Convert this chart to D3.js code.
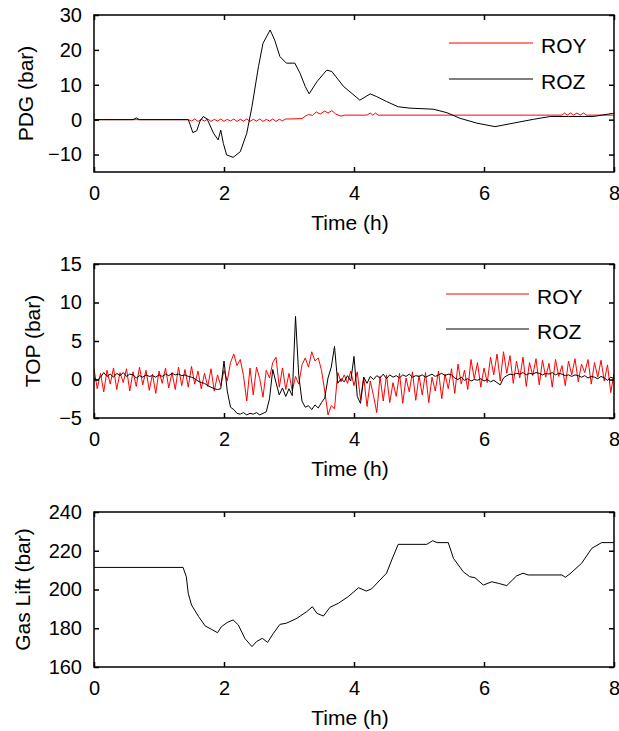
<!DOCTYPE html>
<html>
<head>
<meta charset="utf-8">
<script src="https://cdn.jsdelivr.net/npm/d3@7"></script>
<style>
  body { margin: 0; background: #fff; }
  svg { display: block; font-family: "Liberation Sans", Arial, sans-serif; }
</style>
</head>
<body>
<svg id="chart" width="619" height="731"></svg>
<script>
// ---------- data ----------
const xTicks = [0, 2, 4, 6, 8];

// PDG (bar): downhole pressure deviation, sampled at irregular times (h)
const pdgRozTime = [0, 0.6, 0.65, 0.7, 1.45, 1.48, 1.52, 1.58, 1.63, 1.68, 1.74, 1.84, 1.91, 1.95, 1.99, 2.04, 2.14, 2.25, 2.35, 2.43, 2.53, 2.60, 2.71, 2.78, 2.86, 2.96, 3.09, 3.17, 3.25, 3.31, 3.43, 3.58, 3.66, 3.84, 4.09, 4.25, 4.35, 4.50, 4.68, 4.86, 5.22, 5.43, 5.63, 5.89, 6.17, 6.45, 6.76, 7.02, 7.30, 7.68, 7.98, 8.0];
const pdgRozVal  = [0, 0, 0.5, 0, 0, -1.5, -3.7, -3.2, -0.5, 0.9, 0.2, -3.9, -5.8, -3.0, -6.8, -10.1, -10.8, -9.2, -3.9, 3.7, 15.2, 21.9, 25.7, 22.8, 18.1, 16.2, 16.2, 13.3, 9.5, 7.4, 10.9, 14.2, 13.8, 9.5, 5.6, 7.4, 6.6, 5.2, 3.7, 3.3, 3.0, 2.0, 0.4, -1.0, -2.0, -1.0, 0.1, 0.9, 0.9, 0.9, 1.8, 1.8];
const pdgRoyTime = [0, 1.45, 1.50, 1.55, 1.60, 1.65, 1.70, 1.75, 1.80, 1.85, 1.90, 1.95, 2.00, 2.05, 2.10, 2.15, 2.20, 2.25, 2.30, 2.35, 2.40, 2.45, 2.50, 2.55, 2.60, 2.65, 2.70, 2.75, 2.80, 2.85, 2.90, 2.95, 3.00, 3.20, 3.25, 3.30, 3.36, 3.42, 3.48, 3.55, 3.60, 3.66, 3.72, 3.80, 3.85, 4.20, 4.25, 4.29, 4.33, 4.37, 7.20, 7.24, 7.28, 7.33, 7.38, 7.43, 7.48, 7.53, 7.58, 8.0];
const pdgRoyVal  = [0, 0, -0.4, 0.2, -0.5, 0.1, -0.4, 0.2, -0.5, 0.1, -0.4, 0.2, -0.5, 0.1, -0.4, 0.2, -0.5, 0.1, -0.4, 0.2, -0.5, 0.1, -0.4, 0.2, -0.5, 0.1, -0.4, 0.2, -0.5, 0.1, -0.3, 0.2, 0.2, 0.3, 1.0, 1.5, 1.2, 2.2, 1.6, 2.5, 1.9, 2.6, 1.6, 1.0, 1.3, 1.3, 1.9, 1.3, 1.9, 1.3, 1.3, 1.9, 1.3, 1.9, 1.3, 1.9, 1.3, 1.9, 1.3, 1.3];

// TOP (bar): topside pressure deviation, sampled every 0.05 h from 0 to 8 h
const topStep = 0.05;
const topRoy = [
  1.4, -1.2, 0.8, -1.6, 1.2, -0.6, 1.5, -1.3, 0.9, -0.4,
  1.4, -1.5, 1.0, -0.9, 1.6, -0.7, 1.2, -1.4, 0.7, -1.8,
  1.1, -0.5, 1.5, -1.1, 0.9, -1.3, 1.6, -0.8, 1.3, -1.0,
  1.7, -0.6, 1.1, -1.2, 0.8, -0.9, 1.4, -1.5, 0.6, -0.8,
  1.2, -0.2, 2.2, 3.3, 1.8, 2.6, 0.5, -2.8, 1.5, -2.0,
  1.6, 0.1, -2.3, 1.2, 0.2, 2.2, 2.9, -1.0, 1.5, -1.3,
  0.8, -1.5, 0.4, -0.6, 1.9, 2.8, 1.6, 3.6, 2.4, 2.8,
  1.2, -1.5, -4.6, -3.4, -3.8, 0.9, -0.3, 0.6, -0.5, 1.1,
  -0.8, 1.0, -2.6, 0.3, -3.5, -0.2, -2.1, -4.3, 0.4, -2.8,
  0.6, -3.0, -0.4, -2.2, 0.8, -3.1, 0.2, -1.6, 1.0, -2.7,
  0.5, -2.0, 0.9, -3.0, 0.3, -1.5, 1.1, -2.5, 0.7, -1.2,
  1.4, -1.8, 2.0, -0.6, 1.2, -1.3, 2.6, 0.1, 2.2, -1.0,
  1.5, -0.4, 2.9, 0.6, 3.3, -0.2, 3.6, 0.8, 3.1, -0.5,
  2.4, 0.2, 2.9, -0.9, 2.2, 0.5, 2.7, -0.7, 2.5, 0.3,
  2.1, -1.0, 2.6, 0.4, 1.8, -0.8, 2.4, 0.6, 2.7, -0.3,
  2.0, 0.9, 2.6, -0.6, 2.2, 0.3, 2.5, -0.2, 1.9, -1.7,
  0.8
];
const topRoz = [
  0.2, -0.1, 0.3, 0.9, 0.4, 0.7, 0.3, 0.8, 0.5, 0.9,
  0.4, 0.7, 0.6, 0.2, 0.5, 0.3, 0.6, 0.4, 0.5, 0.3,
  0.6, 0.4, 0.7, 0.5, 0.8, 0.6, 0.7, 0.5, 0.6, 0.4,
  0.3, 0.1, -0.2, -0.4, -0.5, -0.8, -1.0, -1.2, -1.3, -1.2,
  2.4, -1.5, -3.6, -3.9, -4.4, -4.5, -4.3, -4.6, -4.4, -4.5,
  -4.3, -4.6, -4.4, -4.2, -2.5, 1.3, -0.4, -2.0, -1.1, -2.2,
  -1.2, -2.1, 8.2, 0.5, -2.8, -3.6, -3.4, -3.9, -3.3, -3.7,
  -3.0, -2.4, 0.2, 1.6, 4.3, -0.5, 0.1, -0.3, 0.5, -0.2,
  3.0, -2.2, -3.1, 0.3, -0.5, 0.4, 0.0, 0.5, 0.2, 0.7,
  0.1, 0.6, 0.3, 0.5, 0.2, 0.6, 0.4, 0.7, 0.3, 0.5,
  0.4, 0.6, 0.3, 0.5, 0.7, 0.4, 0.6, 0.8, 0.5, 0.7,
  0.6, 0.2, 0.0, 0.3, -0.1, 0.1, -0.2, 0.0, -0.1, 0.1,
  -0.2, 0.0, -0.3, -0.1, -0.4, -0.7, 0.2, 0.5, 0.7, 0.6,
  0.8, 0.7, 0.9, 0.6, 0.8, 0.7, 0.9, 0.8, 0.6, 0.8,
  0.7, 0.9, 0.6, 0.8, 0.7, 0.5, 0.6, 0.4, 0.6, 0.5,
  0.3, 0.5, 0.2, 0.4, 0.3, 0.1, 0.4, 0.2, -0.1, 0.3,
  0.1
];

// Gas lift pressure (bar)
const gasTime = [0, 1.37, 1.42, 1.45, 1.50, 1.61, 1.71, 1.81, 1.90, 1.96, 2.05, 2.14, 2.22, 2.32, 2.43, 2.50, 2.59, 2.67, 2.76, 2.86, 2.96, 3.12, 3.27, 3.36, 3.43, 3.53, 3.63, 3.76, 3.91, 4.07, 4.19, 4.27, 4.40, 4.50, 4.58, 4.68, 5.12, 5.21, 5.28, 5.45, 5.53, 5.68, 5.78, 5.86, 5.99, 6.12, 6.22, 6.35, 6.50, 6.60, 6.68, 7.20, 7.25, 7.32, 7.50, 7.66, 7.81, 8.0];
const gasVal  = [211.4, 211.4, 206.6, 198.0, 192.0, 186.0, 181.2, 179.4, 177.7, 180.8, 183.0, 184.3, 181.7, 174.8, 170.5, 173.1, 174.8, 172.7, 177.4, 182.0, 182.6, 185.1, 188.5, 191.1, 187.7, 186.3, 190.8, 192.9, 196.3, 200.9, 199.2, 200.3, 204.9, 208.4, 215.2, 223.3, 223.3, 225.2, 224.2, 224.2, 216.1, 209.2, 206.6, 206.1, 202.3, 204.0, 203.2, 202.0, 207.0, 208.4, 207.5, 207.5, 206.3, 208.0, 213.5, 221.3, 224.2, 224.2];

// ---------- layout ----------
const svg = d3.select("#chart");
const left = 94, right = 614;
const x = d3.scaleLinear().domain([0, 8]).range([left, right]);
const tickLen = 5;

const panels = [
  { top: 15, bottom: 172, domain: [-15, 30], ticks: [-10, 0, 10, 20, 30], label: "PDG (bar)", labelX: 33,
    series: [
      { t: pdgRoyTime, v: pdgRoyVal, color: "#ff0000" },
      { t: pdgRozTime, v: pdgRozVal, color: "#000000" }
    ],
    legend: { x1: 449, x2: 533, ys: [43, 79], tx: 541 } },
  { top: 264, bottom: 418, domain: [-5, 15], ticks: [-5, 0, 5, 10, 15], label: "TOP (bar)", labelX: 40,
    series: [
      { t: topRoy.map((_, i) => i * topStep), v: topRoy, color: "#ff0000" },
      { t: topRoz.map((_, i) => i * topStep), v: topRoz, color: "#000000" }
    ],
    legend: { x1: 446, x2: 529, ys: [294, 329], tx: 537 } },
  { top: 512, bottom: 667, domain: [160, 240], ticks: [160, 180, 200, 220, 240], label: "Gas Lift (bar)", labelX: 30,
    series: [ { t: gasTime, v: gasVal, color: "#000000" } ],
    legend: null }
];

const legendNames = ["ROY", "ROZ"];

panels.forEach(p => {
  const y = d3.scaleLinear().domain(p.domain).range([p.bottom, p.top]);
  const g = svg.append("g");

  // clip path so traces stay within the box
  const clipId = "clip" + p.top;
  svg.append("clipPath").attr("id", clipId)
    .append("rect").attr("x", left).attr("y", p.top)
    .attr("width", right - left).attr("height", p.bottom - p.top);

  const line = d3.line().x(d => x(d[0])).y(d => y(d[1]));
  const lines = g.append("g").attr("clip-path", `url(#${clipId})`);
  p.series.forEach(s => {
    const pts = s.t.map((t, i) => [t, s.v[i]]);
    lines.append("path").datum(pts)
      .attr("d", line)
      .attr("fill", "none")
      .attr("stroke", s.color)
      .attr("stroke-width", 1)
      .attr("stroke-linejoin", "round");
  });

  // axes: ticks drawn inward on all four sides
  const fontTick = "20px";
  const bottomAxis = d3.axisBottom(x).tickValues(xTicks).tickSize(-tickLen).tickPadding(14).tickFormat(d3.format("d"));
  const topAxis = d3.axisTop(x).tickValues(xTicks).tickSize(-tickLen).tickFormat("");
  const leftAxis = d3.axisLeft(y).tickValues(p.ticks).tickSize(-tickLen).tickPadding(12).tickFormat(d3.format("d"));
  const rightAxis = d3.axisRight(y).tickValues(p.ticks).tickSize(-tickLen).tickFormat("");

  const gb = g.append("g").attr("transform", `translate(0,${p.bottom})`).call(bottomAxis);
  const gt = g.append("g").attr("transform", `translate(0,${p.top})`).call(topAxis);
  const gl = g.append("g").attr("transform", `translate(${left},0)`).call(leftAxis);
  const gr = g.append("g").attr("transform", `translate(${right},0)`).call(rightAxis);
  [gb, gt, gl, gr].forEach(a => {
    a.select(".domain").remove();
    a.selectAll(".tick line").attr("stroke", "#000").attr("stroke-width", 1.5);
    a.selectAll(".tick text").attr("fill", "#000")
      .style("font-size", fontTick).style("font-family", "'Liberation Sans', Arial, sans-serif");
  });
  gb.selectAll(".tick text").attr("dy", "0.71em");

  // frame
  g.append("rect").attr("x", left).attr("y", p.top)
    .attr("width", right - left).attr("height", p.bottom - p.top)
    .attr("fill", "none").attr("stroke", "#000").attr("stroke-width", 1.5);

  // axis titles
  g.append("text")
    .attr("transform", `translate(${p.labelX},${(p.top + p.bottom) / 2}) rotate(-90)`)
    .attr("text-anchor", "middle")
    .style("font-size", "21px").attr("fill", "#000")
    .text(p.label);
  g.append("text")
    .attr("x", 350).attr("y", p.bottom + 58)
    .attr("text-anchor", "middle")
    .style("font-size", "21px").attr("fill", "#000")
    .text("Time (h)");

  // legend
  if (p.legend) {
    p.series.forEach((s, i) => {
      const ly = p.legend.ys[i];
      g.append("line")
        .attr("x1", p.legend.x1).attr("x2", p.legend.x2)
        .attr("y1", ly).attr("y2", ly)
        .attr("stroke", s.color).attr("stroke-width", 1);
      g.append("text")
        .attr("x", p.legend.tx).attr("y", ly + 10)
        .style("font-size", "21px").attr("fill", "#000")
        .text(legendNames[i]);
    });
  }
});
</script>
</body>
</html>
